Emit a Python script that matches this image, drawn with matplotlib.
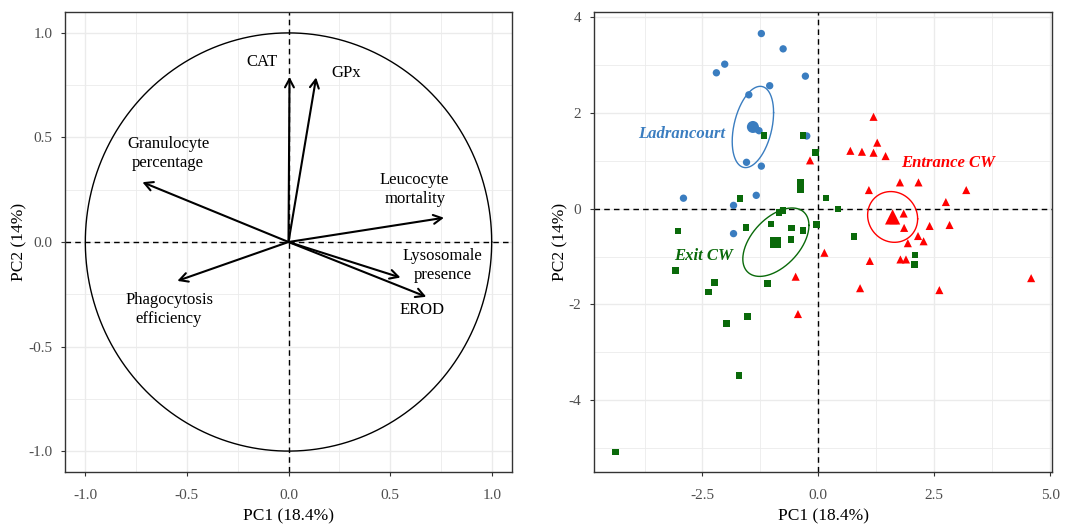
import numpy as np
import matplotlib
matplotlib.use("Agg")
import matplotlib.pyplot as plt
from matplotlib.patches import FancyArrowPatch

plt.rcParams['font.family'] = ['Liberation Serif', 'DejaVu Serif']
plt.rcParams['axes.unicode_minus'] = False

# --- variables (correlation circle) ---
var_names = ['CAT', 'GPx', 'Granulocyte\npercentage', 'Leucocyte\nmortality',
             'Lysosomale\npresence', 'EROD', 'Phagocytosis\nefficiency']
var_x = [0.005, 0.136, -0.719, 0.765, 0.551, 0.678, -0.547]
var_y = [0.790, 0.787, 0.286, 0.116, -0.170, -0.262, -0.186]
lab_x = [-0.13, 0.286, -0.593, 0.621, 0.757, 0.658, -0.588]
lab_y = [0.862, 0.806, 0.422, 0.251, -0.114, -0.324, -0.321]

# --- individuals ---
lad_x = [-1.23, -0.76, -2.02, -2.20, -0.28, -1.05, -1.50, -1.40, -1.35, -1.28,
         -0.25, -1.55, -1.23, -1.34, -2.91, -1.83, -1.83]
lad_y = [3.66, 3.34, 3.02, 2.84, 2.77, 2.57, 2.38, 1.73, 1.67, 1.63,
         1.52, 0.97, 0.89, 0.28, 0.22, 0.07, -0.52]

exit_x = [-1.17, -0.33, -0.06, -0.38, -0.38, -1.69, 0.16, 0.42, -0.85, -0.76,
          -1.02, -0.58, -0.33, -0.04, -1.56, -3.03, -0.59, 0.77, -3.08, -2.24,
          -2.37, -1.10, -1.53, -1.98, -1.71, -4.38, 2.08, 2.07]
exit_y = [1.53, 1.53, 1.18, 0.55, 0.40, 0.21, 0.22, -0.01, -0.08, -0.04,
          -0.32, -0.40, -0.45, -0.33, -0.39, -0.47, -0.64, -0.58, -1.29, -1.54,
          -1.74, -1.56, -2.25, -2.40, -3.48, -5.08, -0.97, -1.17]

ent_x = [1.19, 1.27, 0.69, 0.94, 1.19, 1.45, 1.76, 2.16, 1.09, 3.19,
         2.75, 1.84, 1.85, 2.40, 2.83, 2.15, 2.27, 1.93, 1.11, 1.77,
         1.89, 0.90, 2.61, 4.59, -0.18, 0.13, -0.49, -0.44, 1.62]
ent_y = [1.92, 1.38, 1.21, 1.19, 1.17, 1.10, 0.55, 0.55, 0.39, 0.39,
         0.14, -0.10, -0.40, -0.36, -0.34, -0.57, -0.68, -0.72, -1.09, -1.06,
         -1.06, -1.66, -1.70, -1.45, 1.01, -0.92, -1.42, -2.20, -0.24]

groups = [
    ('Ladrancourt', lad_x, lad_y, '#3A7DC0', 'o', 28, 75, (-2.95, 1.56)),
    ('Exit CW', exit_x, exit_y, '#0A6A0A', 's', 22, 65, (-2.47, -0.99)),
    ('Entrance CW', ent_x, ent_y, '#FF0000', '^', 34, 120, (2.80, 0.96)),
]

fig = plt.figure(figsize=(10.68, 5.24), dpi=100)
ax1 = fig.add_axes([65 / 1068, 52 / 524, 447 / 1068, 460 / 524])
ax2 = fig.add_axes([594 / 1068, 52 / 524, 458 / 1068, 460 / 524])


def style_axis(ax, xmajor, xminor, ymajor, yminor):
    ax.set_xticks(xmajor)
    ax.set_xticks(xminor, minor=True)
    ax.set_yticks(ymajor)
    ax.set_yticks(yminor, minor=True)
    ax.grid(True, which='major', color='#EBEBEB', lw=1.0, zorder=0)
    ax.grid(True, which='minor', color='#EBEBEB', lw=0.6, zorder=0)
    ax.set_axisbelow(True)
    ax.tick_params(which='major', length=3, width=0.8, color='#333333',
                   labelsize=11, labelcolor='#4D4D4D', pad=6)
    ax.tick_params(axis='x', which='major', pad=9)
    ax.tick_params(which='minor', length=0)
    for s in ax.spines.values():
        s.set_color('#333333')
        s.set_linewidth(1.0)


# ---- left: correlation circle ----
t = np.linspace(0, 2 * np.pi, 400)
ax1.plot(np.cos(t), np.sin(t), color='black', lw=1.0)
ax1.axhline(0, color='black', ls=(0, (4, 3)), lw=1.0)
ax1.axvline(0, color='black', ls=(0, (4, 3)), lw=1.0)
for vx, vy in zip(var_x, var_y):
    ax1.add_patch(FancyArrowPatch((0, 0), (vx, vy),
                                  arrowstyle='->,head_length=0.6,head_width=0.32',
                                  mutation_scale=10, lw=1.5, color='black',
                                  shrinkA=0, shrinkB=0, zorder=3))
for name, lx, ly in zip(var_names, lab_x, lab_y):
    ax1.text(lx, ly, name, ha='center', va='center', fontsize=12,
             linespacing=1.25, color='black')
ax1.set_xlim(-1.1, 1.1)
ax1.set_ylim(-1.1, 1.1)
style_axis(ax1, [-1.0, -0.5, 0.0, 0.5, 1.0], [-0.75, -0.25, 0.25, 0.75],
           [-1.0, -0.5, 0.0, 0.5, 1.0], [-0.75, -0.25, 0.25, 0.75])
ax1.set_xticklabels(['-1.0', '-0.5', '0.0', '0.5', '1.0'])
ax1.set_yticklabels(['-1.0', '-0.5', '0.0', '0.5', '1.0'])
ax1.set_xlabel('PC1 (18.4%)', fontsize=12.5, labelpad=5)
ax1.set_ylabel('PC2 (14%)', fontsize=12.5, labelpad=0.5)


def conf_factor(n, level=0.95):
    # Hotelling T^2 scaling for the confidence region of the mean
    d = n - 2
    f = d / 2.0 * ((1 - level) ** (-2.0 / d) - 1)
    return np.sqrt(2.0 * (n - 1) / d * f)


# ---- right: individuals ----
ax2.axhline(0, color='black', ls=(0, (4, 3)), lw=1.0, zorder=1)
ax2.axvline(0, color='black', ls=(0, (4, 3)), lw=1.0, zorder=1)
for name, gx, gy, col, mk, s, sbig, (tx, ty) in groups:
    gx = np.array(gx)
    gy = np.array(gy)
    ax2.scatter(gx, gy, s=s, marker=mk, color=col, edgecolors='none', zorder=3)
    mx, my = gx.mean(), gy.mean()
    ax2.scatter([mx], [my], s=sbig, marker=mk, color=col, edgecolors='none', zorder=4)
    cov = np.cov(np.vstack([gx, gy])) / len(gx)
    L = np.linalg.cholesky(cov)
    ell = L @ np.vstack([np.cos(t), np.sin(t)]) * conf_factor(len(gx))
    ax2.plot(mx + ell[0], my + ell[1], color=col, lw=1.0, zorder=2)
    ax2.text(tx, ty, name, color=col, fontsize=12, fontweight='bold',
             fontstyle='italic', ha='center', va='center', zorder=5)

ax2.set_xlim(-4.84, 5.04)
ax2.set_ylim(-5.5, 4.11)
style_axis(ax2, [-2.5, 0.0, 2.5, 5.0], [-3.75, -1.25, 1.25, 3.75],
           [-4, -2, 0, 2, 4], [-5, -3, -1, 1, 3])
ax2.set_xticklabels(['-2.5', '0.0', '2.5', '5.0'])
ax2.set_yticklabels(['-4', '-2', '0', '2', '4'])
ax2.set_xlabel('PC1 (18.4%)', fontsize=12.5, labelpad=5)
ax2.set_ylabel('PC2 (14%)', fontsize=12.5, labelpad=0.5)

fig.savefig('out.png', dpi=100)
